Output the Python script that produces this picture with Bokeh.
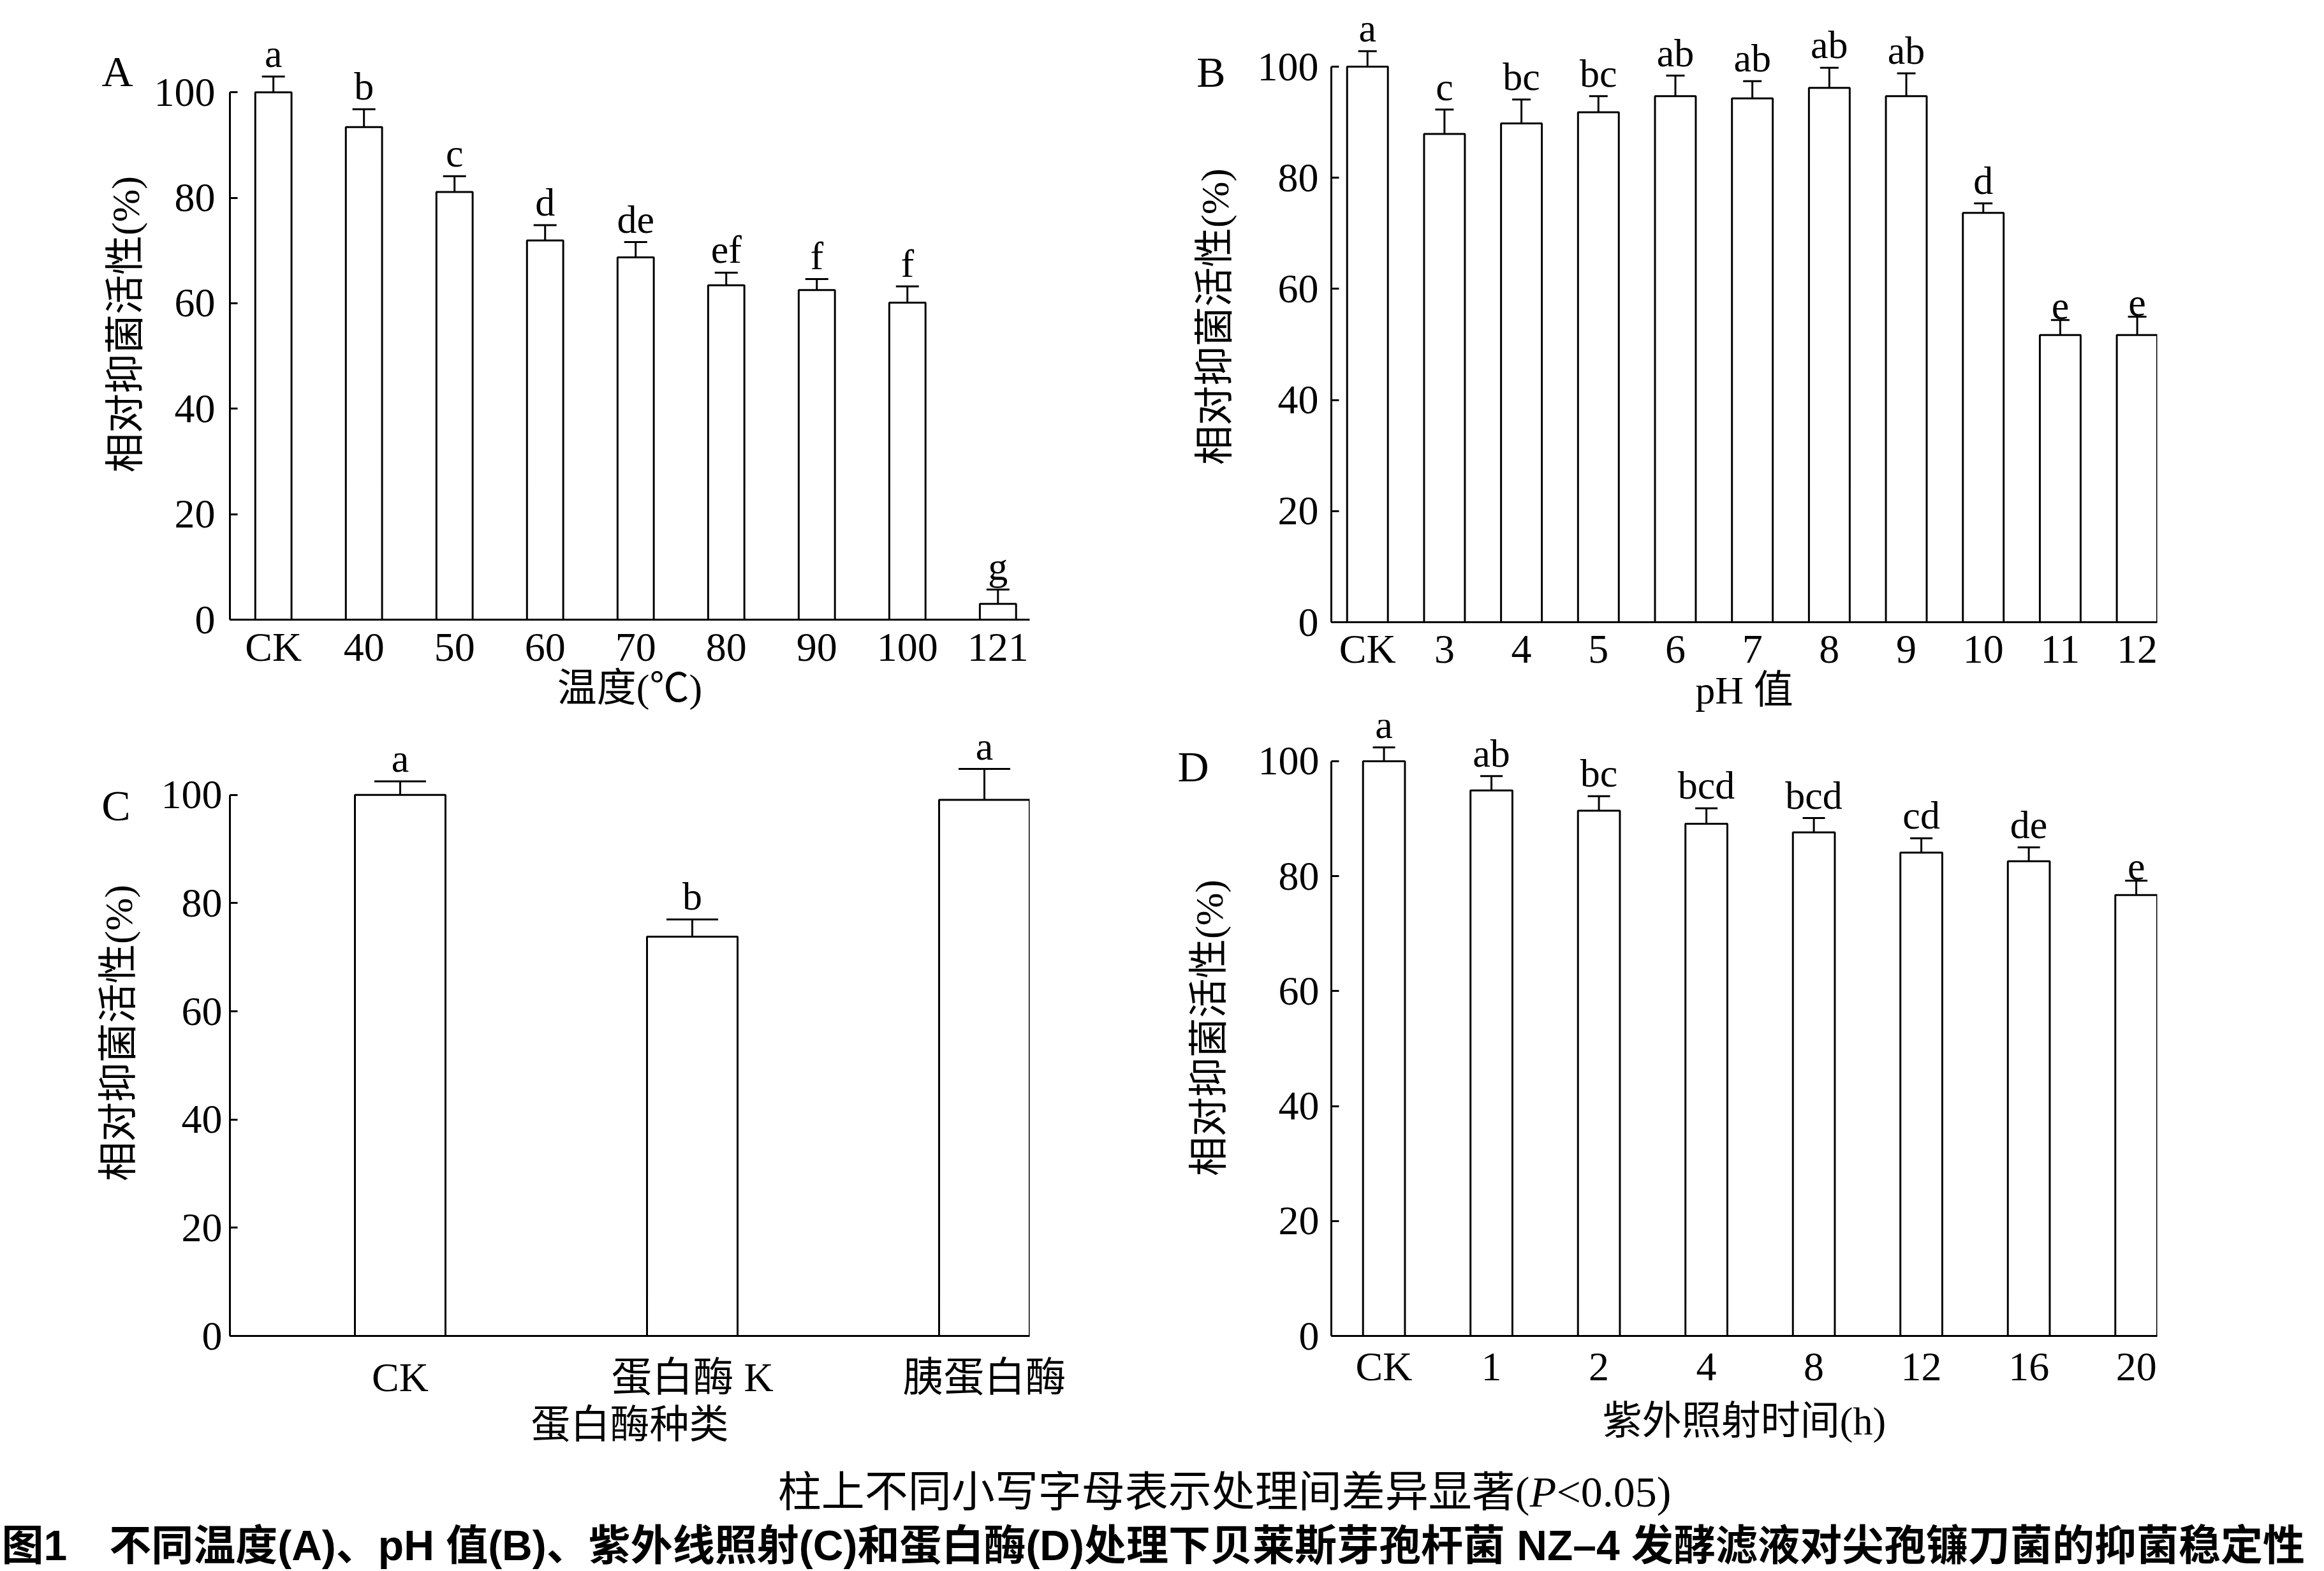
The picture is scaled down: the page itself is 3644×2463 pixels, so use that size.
from bokeh.plotting import figure
from bokeh.models import ColumnDataSource, Label, Whisker, TeeHead, FixedTicker, Range1d, LinearAxis
from bokeh.layouts import row, column
from bokeh.embed import file_html
from bokeh.resources import INLINE
from bokeh.core.properties import value

SERIF = "Liberation Serif, Noto Sans CJK SC"
SANS_B = "Liberation Sans, Noto Sans CJK SC"

# ---------------- data ----------------
temp_cats = ["CK", "40", "50", "60", "70", "80", "90", "100", "121"]
temp_vals = [100.0, 93.4, 81.1, 71.9, 68.7, 63.4, 62.5, 60.1, 3.0]
temp_errs = [3.0, 3.4, 3.0, 2.9, 2.9, 2.4, 2.1, 3.1, 2.7]
temp_sig = ["a", "b", "c", "d", "de", "ef", "f", "f", "g"]

ph_cats = ["CK", "3", "4", "5", "6", "7", "8", "9", "10", "11", "12"]
ph_vals = [100.0, 87.9, 89.8, 91.8, 94.7, 94.3, 96.2, 94.7, 73.7, 51.7, 51.7]
ph_errs = [2.8, 4.4, 4.3, 2.9, 3.7, 3.1, 3.6, 4.1, 1.7, 2.7, 3.3]
ph_sig = ["a", "c", "bc", "bc", "ab", "ab", "ab", "ab", "d", "e", "e"]

enz_cats = ["CK", "蛋白酶 K", "胰蛋白酶"]
enz_vals = [100.0, 73.8, 99.1]
enz_errs = [2.5, 3.2, 5.7]
enz_sig = ["a", "b", "a"]

uv_cats = ["CK", "1", "2", "4", "8", "12", "16", "20"]
uv_vals = [100.0, 94.9, 91.4, 89.1, 87.6, 84.1, 82.6, 76.7]
uv_errs = [2.4, 2.5, 2.5, 2.7, 2.5, 2.5, 2.4, 2.5]
uv_sig = ["a", "ab", "bc", "bcd", "bcd", "cd", "de", "e"]

y_ticks = [0, 20, 40, 60, 80, 100]
y_title = "相对抑菌活性(%)"


def panel(cats, vals, errs, sig, letter, xtitle, *, width, height, mbl, mbr, mbt, mbb,
          xr, ytop, bar_w, cap_px, ytick_sd, xtick_sd, ylab_sd, xlab_sd, letter_y, letter_sd):
    xs = list(range(len(cats)))
    src = ColumnDataSource(dict(
        x=xs, top=vals,
        upper=[v + e for v, e in zip(vals, errs)],
        lower=[v - e for v, e in zip(vals, errs)],
        sig=sig))
    p = figure(width=width, height=height, x_range=Range1d(*xr), y_range=Range1d(0, ytop),
               output_backend="svg", toolbar_location=None, title_location=None,
               min_border_left=mbl, min_border_right=mbr, min_border_top=mbt,
               min_border_bottom=mbb)
    p.outline_line_color = None
    p.grid.visible = False
    p.background_fill_color = "white"
    p.border_fill_color = "white"
    p.vbar(x="x", top="top", bottom=0, width=bar_w, source=src,
           fill_color="white", line_color="black", line_width=3)
    w = Whisker(base="x", upper="upper", lower="lower", source=src,
                line_color="black", line_width=3,
                upper_head=TeeHead(size=cap_px, line_width=3, line_color="black"),
                lower_head=TeeHead(size=cap_px, line_width=3, line_color="black"))
    p.add_layout(w)
    p.text(x="x", y="upper", text="sig", source=src, text_align="center",
           text_baseline="bottom", y_offset=-2, text_font=value(SERIF),
           text_font_size="62px", text_color="black")

    ya = p.yaxis[0]
    ya.ticker = FixedTicker(ticks=y_ticks)
    ya.bounds = (0, 100)
    ya.major_tick_in = 12
    ya.major_tick_out = 0
    ya.minor_tick_in = 0
    ya.minor_tick_out = 0
    ya.axis_line_width = 3
    ya.major_tick_line_width = 3
    ya.major_label_text_font = SERIF
    ya.major_label_text_font_size = "64px"
    ya.major_label_text_color = "black"
    ya.major_label_standoff = ytick_sd
    ya.axis_label = y_title
    ya.axis_label_text_font = SERIF
    ya.axis_label_text_font_size = "62px"
    ya.axis_label_text_font_style = "normal"
    ya.axis_label_text_color = "black"
    ya.axis_label_standoff = ylab_sd

    xa = p.xaxis[0]
    xa.ticker = FixedTicker(ticks=xs)
    xa.major_label_overrides = {i: c for i, c in zip(xs, cats)}
    xa.major_tick_in = 0
    xa.major_tick_out = 0
    xa.minor_tick_in = 0
    xa.minor_tick_out = 0
    xa.axis_line_width = 3
    xa.major_label_text_font = SERIF
    xa.major_label_text_font_size = "64px"
    xa.major_label_text_color = "black"
    xa.major_label_standoff = xtick_sd
    xa.axis_label = xtitle
    xa.axis_label_text_font = SERIF
    xa.axis_label_text_font_size = "62px"
    xa.axis_label_text_font_style = "normal"
    xa.axis_label_text_color = "black"
    xa.axis_label_standoff = xlab_sd

    # panel letter, carried by an outer left axis with a single labelled tick
    la = LinearAxis(ticker=FixedTicker(ticks=[letter_y]),
                    major_label_overrides={letter_y: letter},
                    axis_line_color=None, major_tick_line_color=None,
                    minor_tick_line_color=None,
                    major_label_standoff=letter_sd,
                    major_label_text_font=SERIF, major_label_text_font_size="68px",
                    major_label_text_color="black")
    p.add_layout(la, "left")
    return p


pA = panel(temp_cats, temp_vals, temp_errs, temp_sig, "A", "温度(℃)",
           width=1822, height=1132, mbl=353, mbr=115, mbt=45, mbb=161,
           xr=(-0.48, 8.35), ytop=112, bar_w=0.40, cap_px=36,
           ytick_sd=23, xtick_sd=7, ylab_sd=8, xlab_sd=-8, letter_y=104, letter_sd=-55)

pB = panel(ph_cats, ph_vals, ph_errs, ph_sig, "B", "pH 值",
           width=1822, height=1128, mbl=265, mbr=262, mbt=17, mbb=153,
           xr=(-0.47, 10.26), ytop=110, bar_w=0.53, cap_px=29,
           ytick_sd=20, xtick_sd=6, ylab_sd=30, xlab_sd=-8, letter_y=99, letter_sd=-60)

pC = panel(enz_cats, enz_vals, enz_errs, enz_sig, "C", "蛋白酶种类",
           width=1822, height=1174, mbl=360, mbr=208, mbt=12, mbb=212,
           xr=(-0.583, 2.155), ytop=112, bar_w=0.31, cap_px=81,
           ytick_sd=12, xtick_sd=29, ylab_sd=30, xlab_sd=2, letter_y=98, letter_sd=-62)

pD = panel(uv_cats, uv_vals, uv_errs, uv_sig, "D", "紫外照射时间(h)",
           width=1822, height=1178, mbl=242, mbr=191, mbt=0, mbb=212,
           xr=(-0.49, 7.195), ytop=107.2, bar_w=0.39, cap_px=35,
           ytick_sd=19, xtick_sd=12, ylab_sd=40, xlab_sd=13, letter_y=99, letter_sd=-43)

# ---------------- caption ----------------
CAP_H = 155
cap = figure(width=3644, height=CAP_H, x_range=Range1d(0, 3644), y_range=Range1d(0, CAP_H),
             output_backend="svg", toolbar_location=None, title_location=None,
             x_axis_type=None, y_axis_type=None, min_border=0)
cap.outline_line_color = None
cap.grid.visible = False
cap.add_layout(Label(x=2398, y=123, text="柱上不同小写字母表示处理间差异显著(",
                     text_align="right", text_baseline="middle", text_font=SERIF,
                     text_font_size="68px", text_color="black"))
cap.add_layout(Label(x=2419, y=123, text="P", text_align="center", text_baseline="middle",
                     text_font=SERIF, text_font_size="68px", text_font_style="italic",
                     text_color="black"))
cap.add_layout(Label(x=2440, y=123, text="<0.05)", text_align="left", text_baseline="middle",
                     text_font=SERIF, text_font_size="68px", text_color="black"))
cap.add_layout(Label(x=2, y=39,
                     text="图1　不同温度(A)、pH 值(B)、紫外线照射(C)和蛋白酶(D)处理下贝莱斯芽孢杆菌 NZ–4 发酵滤液对尖孢镰刀菌的抑菌稳定性",
                     text_align="left", text_baseline="middle", text_font=SANS_B,
                     text_font_size="66px", text_font_style="bold", text_color="black"))

layout = column(row(column(pA, pC), column(pB, pD)), cap)
open("out.html", "w").write(file_html(layout, INLINE))
